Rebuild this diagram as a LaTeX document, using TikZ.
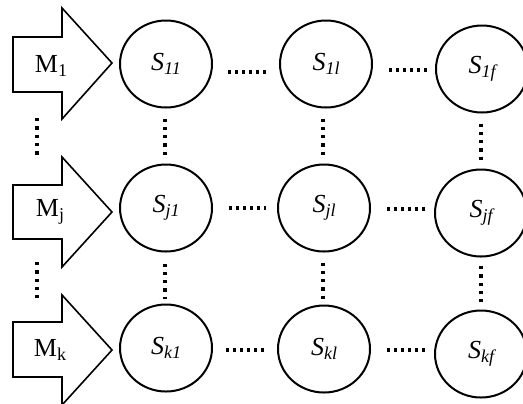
\documentclass[tikz,border=0pt]{standalone}
\usepackage{fontspec}
\setmainfont{Liberation Serif}
\usetikzlibrary{shapes.geometric}
\newcommand\Ssub[1]{\textit{S}\raisebox{-0.35ex}{\fontsize{9}{10}\selectfont\itshape #1}}
\newcommand\Msub[1]{M\raisebox{-0.4ex}{\fontsize{9}{10}\selectfont #1}}
\tikzset{
  state/.style={draw, ellipse, line width=1pt, minimum width=46pt, minimum height=43.5pt, inner sep=0pt, font=\fontsize{13}{15}\selectfont},
  mlabel/.style={inner sep=0pt, font=\fontsize{13}{15}\selectfont},
  bigarrow/.style={draw, line width=0.8pt, line join=miter},
  dotline/.style={line width=1.65pt, dash pattern=on 1.65pt off 1.85pt},
  dotv/.style={line width=1.65pt, dash pattern=on 1.65pt off 2.5pt}
}
\begin{document}
\begin{tikzpicture}[x=0.5pt, y=-0.5pt]
\useasboundingbox (0,0) rectangle (523,403);
% input arrows
\draw[bigarrow] (13,37) -- (62,37) -- (62,8) -- (112,63) -- (62,119) -- (62,92) -- (13,92) -- cycle;
\draw[bigarrow] (13,185) -- (62,185) -- (62,157) -- (112,212) -- (62,267) -- (62,239) -- (13,239) -- cycle;
\draw[bigarrow] (13,322) -- (62,322) -- (62,295) -- (112,350) -- (62,405) -- (62,377) -- (13,377) -- cycle;
\node[mlabel] (M1) at (51,66) {\Msub{1}};
\node[mlabel] (Mj) at (50,212) {\Msub{j}};
\node[mlabel] (Mk) at (50,350) {\Msub{k}};
% states
\node[state] (S11) at (166,64) {\Ssub{11}};
\node[state] (S1l) at (326,64) {\Ssub{1l}};
\node[state] (S1f) at (482,69) {\Ssub{1f}};
\node[state] (Sj1) at (166,208) {\Ssub{j1}};
\node[state] (Sjl) at (324,208) {\Ssub{jl}};
\node[state] (Sjf) at (481,213) {\Ssub{jf}};
\node[state] (Sk1) at (166,348) {\Ssub{k1}};
\node[state] (Skl) at (324,349) {\Ssub{kl}};
\node[state] (Skf) at (481,354) {\Ssub{kf}};
% horizontal ellipses
\draw[dotline] ([xshift=7.5pt,yshift=-4pt]S11.east) -- ([xshift=-6.5pt,yshift=-4pt]S1l.west);
\draw[dotline] ([xshift=8pt,yshift=-3pt]S1l.east) -- ([xshift=-3.5pt,yshift=-0.5pt]S1f.west);
\draw[dotline] ([xshift=8pt]Sj1.east) -- ([xshift=-5.5pt]Sjl.west);
\draw[dotline] ([xshift=8pt,yshift=-0.5pt]Sjl.east) -- ([xshift=-3.5pt,yshift=2pt]Sjf.west);
\draw[dotline] ([xshift=6.5pt,yshift=-1pt]Sk1.east) -- ([xshift=-5.5pt,yshift=-0.5pt]Skl.west);
\draw[dotline] ([xshift=8pt,yshift=-0.5pt]Skl.east) -- ([xshift=-3.5pt,yshift=2pt]Skf.west);
% vertical ellipses
\draw[dotv] ([xshift=-0.5pt,yshift=-5pt]S11.south) -- ([xshift=-0.5pt,yshift=3.25pt]Sj1.north);
\draw[dotv] ([xshift=-1.5pt,yshift=-5pt]S1l.south) -- ([xshift=-0.5pt,yshift=3.25pt]Sjl.north);
\draw[dotv] ([xshift=-0.5pt,yshift=-5pt]S1f.south) -- ([yshift=4.25pt]Sjf.north);
\draw[dotv] ([xshift=-0.5pt,yshift=-5.5pt]Sj1.south) -- ([xshift=-0.5pt,yshift=2.25pt]Sk1.north);
\draw[dotv] ([xshift=-0.5pt,yshift=-5pt]Sjl.south) -- ([xshift=-0.5pt,yshift=2.75pt]Skl.north);
\draw[dotv] ([yshift=-4.25pt]Sjf.south) -- ([yshift=4pt]Skf.north);
\coordinate (L1a) at (37,118);
\coordinate (L1b) at (37,155);
\coordinate (L2a) at (37,262);
\coordinate (L2b) at (37,298);
\draw[dotv] (L1a) -- (L1b);
\draw[dotv] (L2a) -- (L2b);
\end{tikzpicture}
\end{document}
